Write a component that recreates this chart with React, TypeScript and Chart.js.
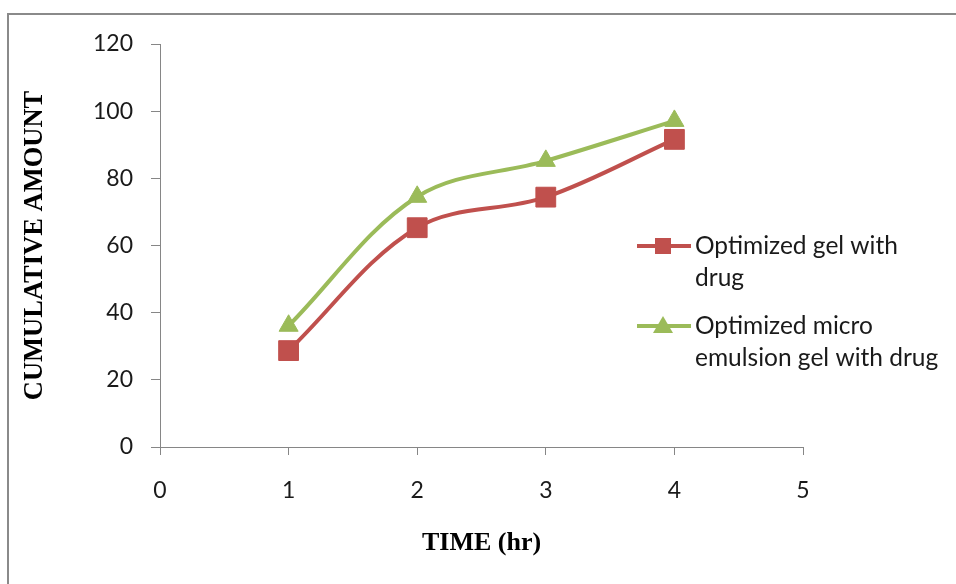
import React, { useEffect, useRef } from 'react';
import { Chart, registerables } from 'chart.js';

Chart.register(...registerables);

// Release profile: time in hours vs cumulative amount
const timeHours = [1, 2, 3, 4];
const gelWithDrug = [28.7, 65.3, 74.4, 91.6];
const microEmulsionGelWithDrug = [36.1, 74.5, 85.2, 97.1];
const seriesLabelLines = [
  ['Optimized gel with', 'drug'],
  ['Optimized micro', 'emulsion gel with drug'],
];
const xAxisTitle = 'TIME (hr)';
const yAxisTitle = 'CUMULATIVE AMOUNT';
const xMin = 0;
const xMax = 5;
const yMin = 0;
const yMax = 120;
const yStep = 20;

const RED = '#C0504D';
const GREEN = '#9BBB59';
const AXIS_GRAY = '#868686';
const TEXT = '#1a1a1a';

// Legend drawn beside the plot with wrapped labels, line swatch and marker
const sideLegend = {
  id: 'sideLegend',
  afterDraw(chart: any) {
    const { ctx } = chart;
    const rows = [246, 326];
    ctx.save();
    chart.data.datasets.forEach((ds: any, i: number) => {
      const y = rows[i];
      const color = ds.borderColor;
      ctx.strokeStyle = color;
      ctx.lineWidth = 4;
      ctx.beginPath();
      ctx.moveTo(637, y);
      ctx.lineTo(691, y);
      ctx.stroke();
      ctx.fillStyle = color;
      if (ds.pointStyle === 'rect') {
        ctx.fillRect(663 - 8, y - 8, 16, 16);
      } else {
        ctx.beginPath();
        ctx.moveTo(663, y - 10);
        ctx.lineTo(673, y + 7);
        ctx.lineTo(653, y + 7);
        ctx.closePath();
        ctx.fill();
      }
      ctx.fillStyle = TEXT;
      ctx.font = '24.5px Lato';
      ctx.textAlign = 'left';
      ctx.textBaseline = 'middle';
      seriesLabelLines[i].forEach((line, j) => {
        ctx.fillText(line, 695, y + j * 32);
      });
    });
    ctx.restore();
  },
};

export default function App() {
  const canvasRef = useRef<HTMLCanvasElement | null>(null);

  useEffect(() => {
    if (!canvasRef.current) return;
    const chart = new Chart(canvasRef.current, {
      type: 'line',
      data: {
        datasets: [
          {
            label: seriesLabelLines[0].join(' '),
            data: timeHours.map((t, i) => ({ x: t, y: gelWithDrug[i] })),
            borderColor: RED,
            backgroundColor: RED,
            borderWidth: 4,
            pointStyle: 'rect',
            pointRadius: 14,
            pointBorderWidth: 1,
            pointBackgroundColor: RED,
            pointBorderColor: RED,
            tension: 0.35,
          },
          {
            label: seriesLabelLines[1].join(' '),
            data: timeHours.map((t, i) => ({ x: t, y: microEmulsionGelWithDrug[i] })),
            borderColor: GREEN,
            backgroundColor: GREEN,
            borderWidth: 4,
            pointStyle: 'triangle',
            pointRadius: 11,
            pointBorderWidth: 1,
            pointBackgroundColor: GREEN,
            pointBorderColor: GREEN,
            tension: 0.35,
          },
        ],
      },
      options: {
        animation: false,
        responsive: false,
        maintainAspectRatio: false,
        layout: { padding: { top: 44, right: 153, bottom: 0, left: 0 } },
        plugins: {
          legend: { display: false },
          tooltip: { enabled: false },
        },
        scales: {
          x: {
            type: 'linear',
            min: xMin,
            max: xMax,
            afterFit: (scale: any) => {
              scale.height = 137;
            },
            ticks: {
              stepSize: 1,
              padding: 22,
              color: TEXT,
              font: { family: 'Lato', size: 23 },
              maxRotation: 0,
            },
            grid: {
              drawOnChartArea: false,
              tickLength: 8,
              color: AXIS_GRAY,
            },
            border: { display: true, color: AXIS_GRAY, width: 1 },
            title: {
              display: true,
              text: xAxisTitle,
              color: '#000',
              font: { family: 'Liberation Serif', size: 26, weight: 'bold' },
              padding: { top: 0, bottom: 25 },
            },
          },
          y: {
            type: 'linear',
            min: yMin,
            max: yMax,
            afterFit: (scale: any) => {
              scale.width = 160;
            },
            ticks: {
              stepSize: yStep,
              padding: 18,
              color: TEXT,
              font: { family: 'Lato', size: 23 },
            },
            grid: {
              drawOnChartArea: false,
              tickLength: 9,
              color: AXIS_GRAY,
            },
            border: { display: true, color: AXIS_GRAY, width: 1 },
            title: {
              display: true,
              text: yAxisTitle,
              color: '#000',
              font: { family: 'Liberation Serif', size: 26.5, weight: 'bold' },
              padding: { top: 19, bottom: 0 },
            },
          },
        },
      },
      plugins: [sideLegend],
    });
    return () => chart.destroy();
  }, []);

  return (
    <div
      style={{
        position: 'fixed',
        left: 0,
        top: 0,
        width: 956,
        height: 584,
        overflow: 'hidden',
        background: '#fff',
      }}
    >
      <div
        style={{
          position: 'absolute',
          left: 7,
          top: 13,
          width: 1200,
          height: 800,
          borderTop: '2px solid #8a8a8a',
          borderLeft: '2px solid #8a8a8a',
        }}
      />
      <canvas
        ref={canvasRef}
        width={956}
        height={584}
        style={{ position: 'absolute', left: 0, top: 0, width: 956, height: 584 }}
      />
    </div>
  );
}
